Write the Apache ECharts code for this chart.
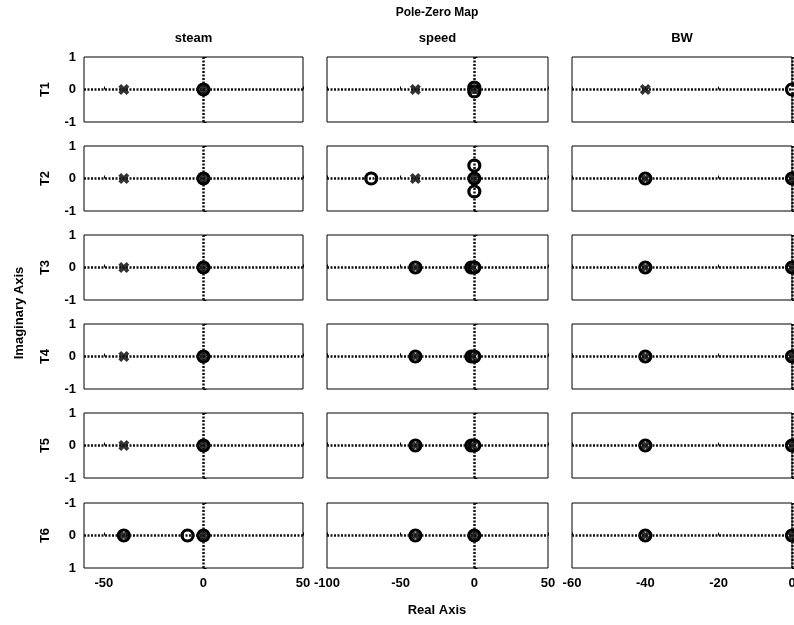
<!DOCTYPE html>
<html><head><meta charset="utf-8">
<script src="https://cdn.jsdelivr.net/npm/echarts@6/dist/echarts.min.js"></script>
<style>html,body{margin:0;padding:0;background:#fff}#c{width:794px;height:625px}</style>
</head><body><div id="c"></div>
<script>
const chartTitle = 'Pole-Zero Map';
const colNames = ['steam', 'speed', 'BW'];
const rowNames = ['T1', 'T2', 'T3', 'T4', 'T5', 'T6'];
const xLimits = [[-60, 50], [-100, 50], [-60, 0]];
const xTicks = [[-50, 0, 50], [-100, -50, 0, 50], [-60, -40, -20, 0]];
const yTicks = [-1, 0, 1];
const xAxisTitle = 'Real Axis';
const yAxisTitle = 'Imaginary Axis';

// poles (x markers) per panel, row-major [T1 steam, T1 speed, T1 BW, T2 steam, ...]
const poles = [
  [[-40, 0], [0, 0]], [[-40, 0], [0, 0]], [[-40, 0]],
  [[-40, 0], [0, 0]], [[-40, 0], [0, 0]], [[-40, 0], [0, 0]],
  [[-40, 0], [0, 0]], [[-40, 0], [-1, 0]], [[-40, 0], [0, 0]],
  [[-40, 0], [0, 0]], [[-40, 0], [-1, 0]], [[-40, 0], [0, 0]],
  [[-40, 0], [0, 0]], [[-40, 0], [-1, 0]], [[-40, 0], [0, 0]],
  [[-40, 0], [0, 0]], [[-40, 0], [0, 0]], [[-40, 0], [0, 0]]
];
// zeros (o markers) per panel
const zeros = [
  [[0, 0]], [[0, 0.06], [0, -0.06]], [[0, 0]],
  [[0, 0]], [[-70, 0], [0, 0.4], [0, 0], [0, -0.4]], [[-40, 0], [0, 0]],
  [[0, 0]], [[-40, 0], [-2, 0], [0, 0]], [[-40, 0], [0, 0]],
  [[0, 0]], [[-40, 0], [-2, 0], [0, 0]], [[-40, 0], [0, 0]],
  [[0, 0]], [[-40, 0], [-2, 0], [0, 0]], [[-40, 0], [0, 0]],
  [[-40, 0], [-8, 0], [0, 0]], [[-40, 0], [0, 0]], [[-40, 0], [0, 0]]
];

const FONT = '"Liberation Sans", Arial, sans-serif';
const colLeft = [84, 327, 572];
const colWidth = [219, 221, 220];
const rowTop = [57, 146, 235, 324, 413, 503];
const rowHeight = 65;
const X_PATH = 'path://M0,2.5 L2.5,0 L5,2.5 L7.5,0 L10,2.5 L7.5,5 L10,7.5 L7.5,10 L5,7.5 L2.5,10 L0,7.5 L2.5,5 Z';

const grid = [], xAxis = [], yAxis = [], series = [];
for (let r = 0; r < 6; r++) {
  for (let c = 0; c < 3; c++) {
    const i = r * 3 + c;
    grid.push({ left: colLeft[c], top: rowTop[r], width: colWidth[c], height: rowHeight,
      show: true, borderColor: '#000', borderWidth: 1, backgroundColor: '#fff',
      containLabel: false, outerBoundsMode: 'none' });
    xAxis.push({ gridIndex: i, type: 'value', min: xLimits[c][0], max: xLimits[c][1],
      splitLine: { show: false }, axisLine: { show: false },
      axisTick: { show: true, inside: true, length: 3, customValues: xTicks[c], lineStyle: { color: '#000' } },
      axisLabel: { show: r === 5, customValues: xTicks[c], margin: 9, color: '#000',
        fontFamily: FONT, fontWeight: 'bold', fontSize: 13 } });
    yAxis.push({ gridIndex: i, type: 'value', min: -1, max: 1, interval: 1, inverse: r === 5,
      splitLine: { show: false }, axisLine: { show: false },
      axisTick: { show: true, inside: true, length: 3, lineStyle: { color: '#000' } },
      axisLabel: { show: c === 0, margin: 8, color: '#000', fontFamily: FONT, fontWeight: 'bold', fontSize: 13 },
      name: c === 0 ? rowNames[r] : '', nameLocation: 'middle', nameRotate: 90, nameGap: 32,
      nameTextStyle: { color: '#000', fontFamily: FONT, fontWeight: 'bold', fontSize: 13 } });
    series.push({ type: 'scatter', xAxisIndex: i, yAxisIndex: i, data: [], silent: true, z: 1,
      markLine: { silent: true, symbol: ['none', 'none'], label: { show: false }, animation: false,
        lineStyle: { color: '#111', width: 2.5, type: [2, 1.5] },
        data: [{ xAxis: 0 }, { yAxis: 0 }] } });
    series.push({ type: 'scatter', xAxisIndex: i, yAxisIndex: i, data: zeros[i], z: 3,
      symbol: 'circle', symbolSize: 11, silent: true, animation: false,
      itemStyle: { color: '#fff', borderColor: '#000', borderWidth: 3.2, opacity: 1 } });
    series.push({ type: 'scatter', xAxisIndex: i, yAxisIndex: i, data: poles[i], z: 4,
      symbol: X_PATH, symbolSize: 11, silent: true, animation: false,
      itemStyle: { color: '#000' } });
  }
}

const txt = { fill: '#000', fontFamily: FONT, fontWeight: 'bold', fontSize: 13, align: 'center', verticalAlign: 'middle' };
const graphic = [
  { type: 'text', x: 437, y: 13, style: Object.assign({}, txt, { text: chartTitle, fontSize: 12 }) },
  { type: 'text', x: 437, y: 610, style: Object.assign({}, txt, { text: xAxisTitle }) },
  { type: 'text', x: 19, y: 313, rotation: Math.PI / 2, style: Object.assign({}, txt, { text: yAxisTitle }) }
];
colNames.forEach((n, c) => {
  graphic.push({ type: 'text', x: colLeft[c] + colWidth[c] / 2, y: 38, style: Object.assign({}, txt, { text: n }) });
});

const chart = echarts.init(document.getElementById('c'), null, { renderer: 'canvas' });
chart.setOption({ animation: false, backgroundColor: '#fff', grid, xAxis, yAxis, series, graphic });
</script></body></html>
